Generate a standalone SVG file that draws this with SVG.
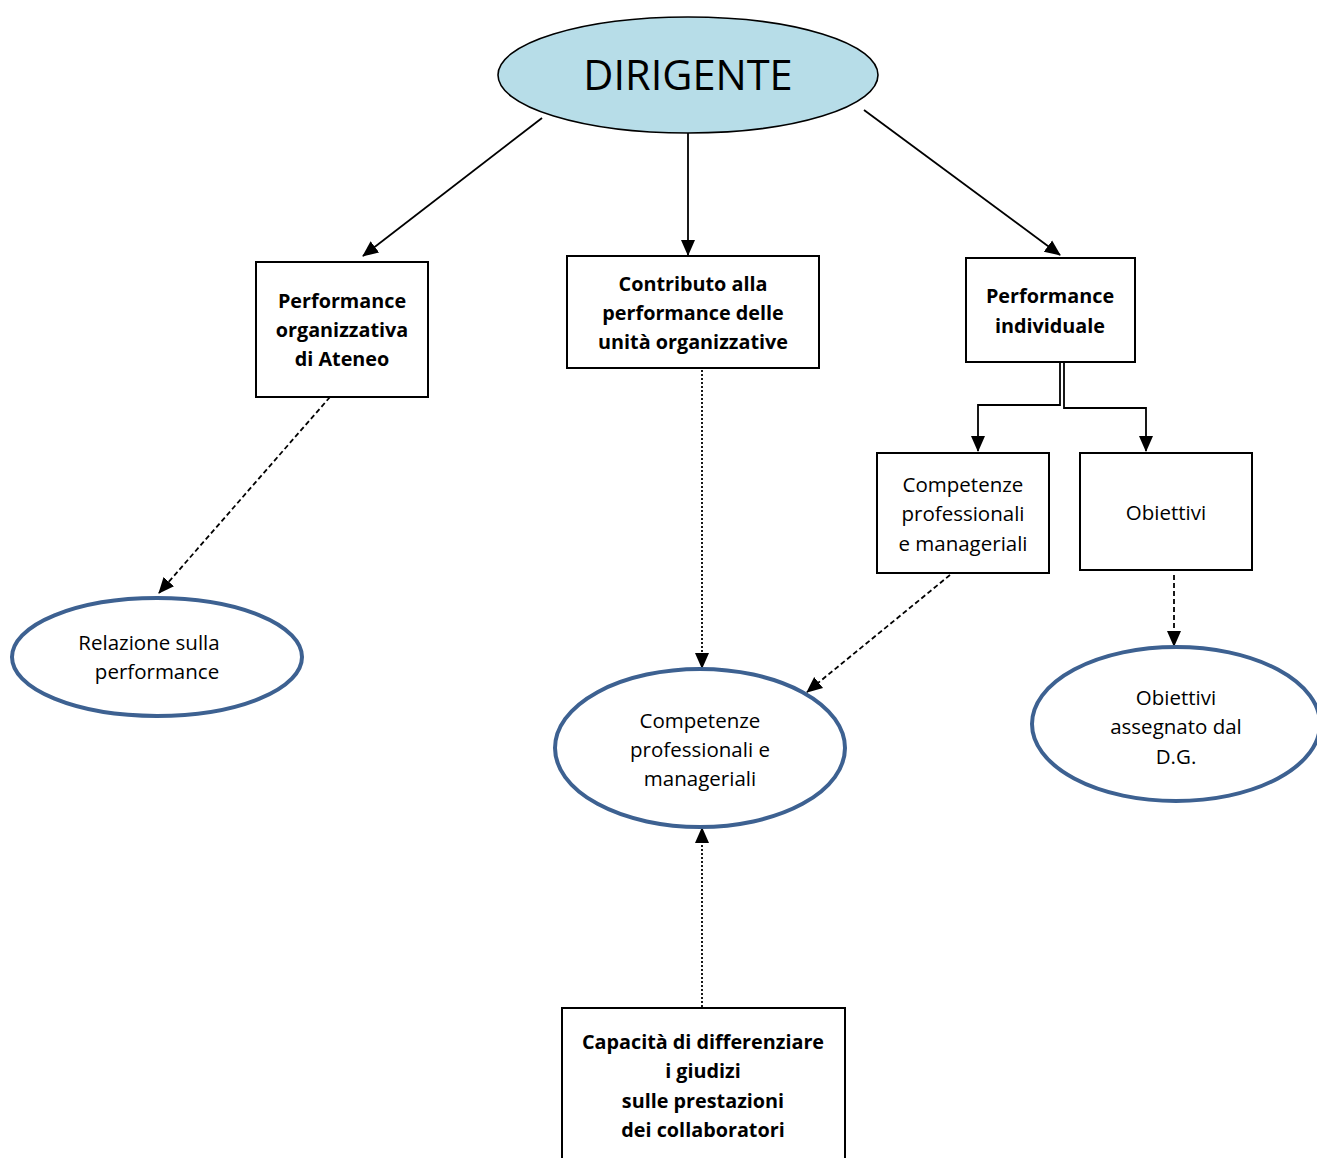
<svg xmlns="http://www.w3.org/2000/svg" width="1317" height="1158" viewBox="0 0 1317 1158">
<style>
text{font-family:"Open Sans","Liberation Sans",sans-serif;fill:#000;text-anchor:middle}
.b{font-weight:bold;font-size:19.8px}
.n{font-size:20.5px}
.box{fill:#fff;stroke:#000;stroke-width:2}
.ell{fill:#fff;stroke:#3d6191;stroke-width:4}
.c{fill:none;stroke:#000;stroke-width:1.8}
.dash{stroke-dasharray:5 3}
.dot{stroke-dasharray:2 2}
</style>
<defs>
<marker id="ah" markerUnits="userSpaceOnUse" markerWidth="16" markerHeight="16" viewBox="0 0 16 16" refX="15" refY="8" orient="auto">
<path d="M0,1 L16,8 L0,15 Z" fill="#000"/>
</marker>
</defs>
<rect width="1317" height="1158" fill="#fff"/>
<g id="connectors">
<line class="c" x1="542" y1="118" x2="363" y2="256" marker-end="url(#ah)"/>
<line class="c" x1="688" y1="133" x2="688" y2="255" marker-end="url(#ah)"/>
<line class="c" x1="864" y1="110" x2="1060" y2="255" marker-end="url(#ah)"/>
<polyline class="c" points="1060,363 1060,405 978,405 978,451" marker-end="url(#ah)"/>
<polyline class="c" points="1064,363 1064,408 1146,408 1146,451" marker-end="url(#ah)"/>
<line class="c dash" x1="330" y1="397" x2="159" y2="593" marker-end="url(#ah)"/>
<line class="c dot" x1="702" y1="370" x2="702" y2="668" marker-end="url(#ah)"/>
<line class="c dash" x1="950" y1="575" x2="807" y2="692" marker-end="url(#ah)"/>
<line class="c dash" x1="1174" y1="575" x2="1174" y2="646" marker-end="url(#ah)"/>
<line class="c dot" x1="702" y1="1007" x2="702" y2="828" marker-end="url(#ah)"/>
</g>
<g id="dirigente">
<ellipse cx="688" cy="75" rx="190" ry="58" fill="#b7dde8" stroke="#000" stroke-width="1.6"/>
<text x="688" y="90" style="font-size:41.5px">DIRIGENTE</text>
</g>
<g id="perf-org">
<rect class="box" x="256" y="262" width="172" height="135"/>
<text class="b" x="342" y="308">Performance</text>
<text class="b" x="342" y="337">organizzativa</text>
<text class="b" x="342" y="366">di Ateneo</text>
</g>
<g id="contributo">
<rect class="box" x="567" y="256" width="252" height="112"/>
<text class="b" x="693" y="291">Contributo alla</text>
<text class="b" x="693" y="320">performance delle</text>
<text class="b" x="693" y="349">unità organizzative</text>
</g>
<g id="perf-ind">
<rect class="box" x="966" y="258" width="169" height="104"/>
<text class="b" x="1050" y="303">Performance</text>
<text class="b" x="1050" y="333">individuale</text>
</g>
<g id="competenze-box">
<rect class="box" x="877" y="453" width="172" height="120"/>
<text class="n" x="963" y="492">Competenze</text>
<text class="n" x="963" y="521">professionali</text>
<text class="n" x="963" y="551">e manageriali</text>
</g>
<g id="obiettivi-box">
<rect class="box" x="1080" y="453" width="172" height="117"/>
<text class="n" x="1166" y="520">Obiettivi</text>
</g>
<g id="relazione">
<ellipse class="ell" cx="157" cy="657" rx="145" ry="59"/>
<text class="n" x="149" y="650">Relazione sulla</text>
<text class="n" x="157" y="679">performance</text>
</g>
<g id="competenze-ell">
<ellipse class="ell" cx="700" cy="748" rx="145" ry="79"/>
<text class="n" x="700" y="728">Competenze</text>
<text class="n" x="700" y="757">professionali e</text>
<text class="n" x="700" y="786">manageriali</text>
</g>
<g id="obiettivi-dg">
<ellipse class="ell" cx="1176" cy="724" rx="144" ry="77"/>
<text class="n" x="1176" y="705">Obiettivi</text>
<text class="n" x="1176" y="734">assegnato dal</text>
<text class="n" x="1176" y="764">D.G.</text>
</g>
<g id="capacita">
<rect class="box" x="562" y="1008" width="283" height="160"/>
<text class="b" x="703" y="1049">Capacità di differenziare</text>
<text class="b" x="703" y="1078">i giudizi</text>
<text class="b" x="703" y="1108">sulle prestazioni</text>
<text class="b" x="703" y="1137">dei collaboratori</text>
</g>
</svg>
